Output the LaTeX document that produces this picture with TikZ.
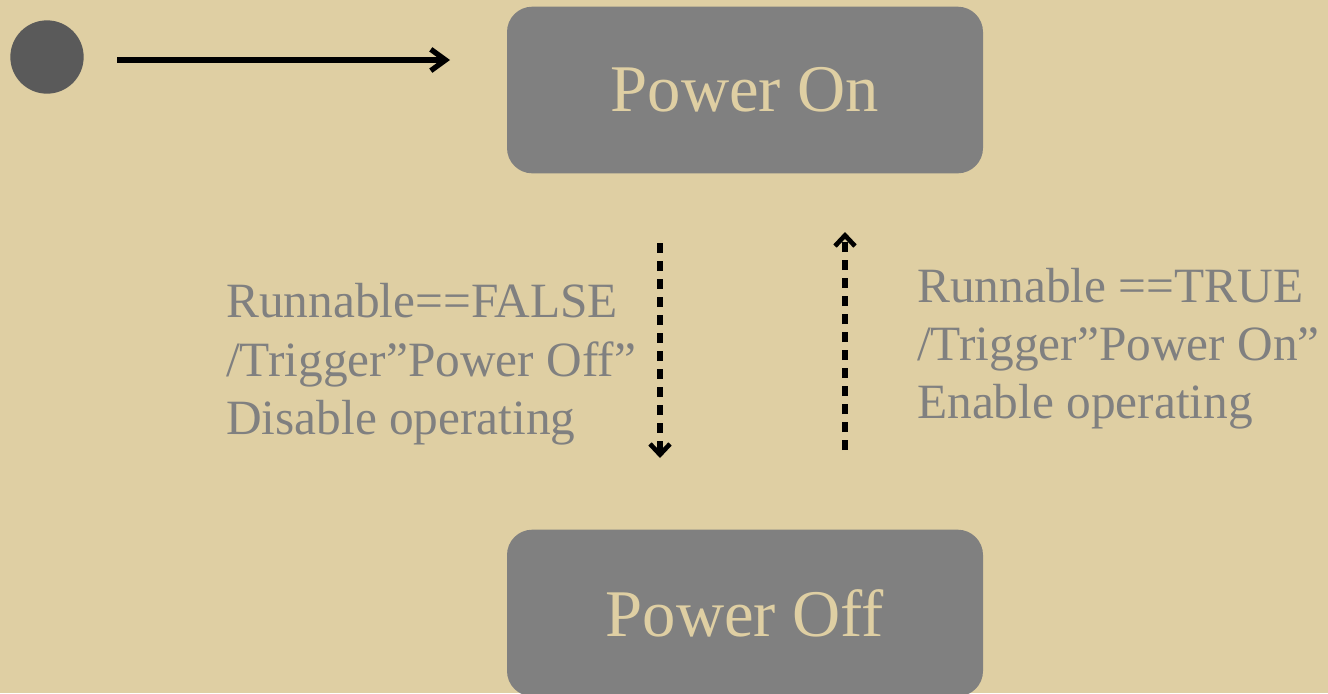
\documentclass[tikz,border=0pt]{standalone}
\usepackage{fontspec}
\setmainfont{Liberation Serif}
\usetikzlibrary{arrows.meta}
\definecolor{bgc}{RGB}{223,207,163}
\definecolor{boxc}{RGB}{128,128,128}
\definecolor{initc}{RGB}{90,90,90}
\begin{document}
\begin{tikzpicture}[x=0.75pt,y=-0.75pt,
  statebox/.style={draw=none,fill=boxc,rounded corners=19pt,minimum width=357pt,minimum height=125pt,inner sep=0pt,text=bgc,font=\fontsize{50}{60}\selectfont},
  lbl/.style={anchor=base west,inner sep=0pt,text=boxc,font=\fontsize{37}{44}\selectfont},
  solidarrow/.style={line width=4pt,-{Straight Barb[length=11pt,width=16pt,line width=4pt]}},
  dasharrow/.style={line width=4pt,dash pattern=on 7.5pt off 6pt,-{Straight Barb[length=8pt,width=15pt,line width=3.5pt]}}
]
\useasboundingbox (0,0) rectangle (1328,693);
\fill[bgc] (0,0) rectangle (1328,693);
\begin{scope}
\clip (0,0) rectangle (1328,693);
\node[statebox] (on) at (745,90) {Power On};
\node[statebox] (off) at (745,613) {Power Off};
\end{scope}
\node[circle,fill=initc,minimum size=55pt,inner sep=0pt] (init) at (47,57) {};
\coordinate (s0) at (117,60);
\coordinate (e0) at (450,60);
\draw[solidarrow] (s0) -- (e0);
\coordinate (s1) at (660,243);
\coordinate (e1) at (660,458);
\draw[dasharrow] (s1) -- (e1);
\coordinate (s2) at (845,450);
\coordinate (e2) at (845,232);
\draw[dasharrow] (s2) -- (e2);
\node[lbl] (l1a) at (226,317) {Runnable==FALSE};
\node[lbl] (l1b) at (226,376) {/Trigger”Power Off”};
\node[lbl] (l1c) at (226,434) {Disable operating};
\node[lbl] (l2a) at (917,302) {Runnable ==TRUE};
\node[lbl] (l2b) at (917,360) {/Trigger”Power On”};
\node[lbl] (l2c) at (917,418) {Enable operating};
\end{tikzpicture}
\end{document}
